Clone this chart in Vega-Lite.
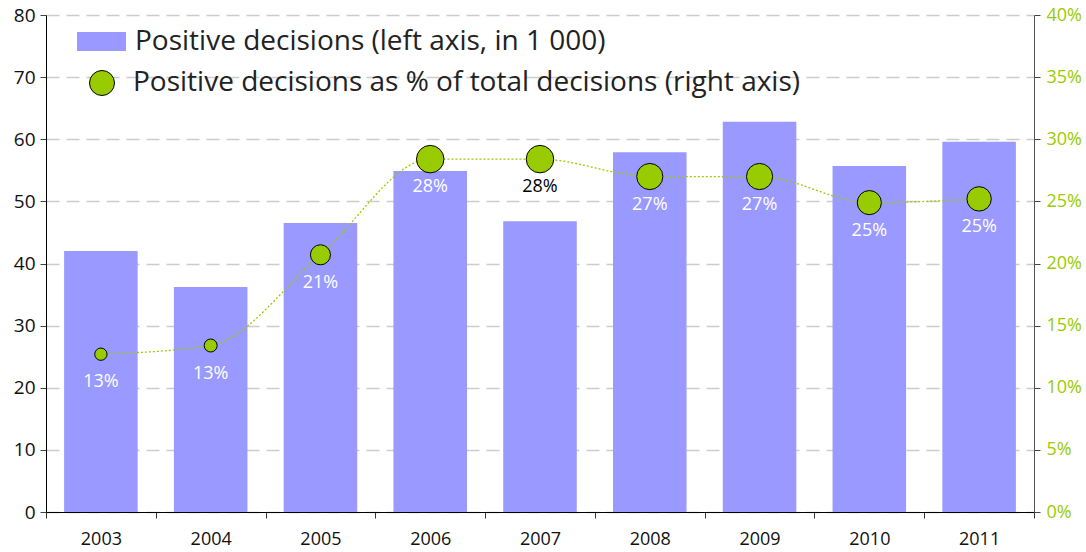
{
  "$schema": "https://vega.github.io/schema/vega-lite/v6.json",
  "width": 988,
  "height": 497,
  "autosize": {"type": "none"},
  "padding": {"left": 46, "top": 15, "right": 52, "bottom": 40},
  "background": "#ffffff",
  "config": {
    "font": "Open Sans",
    "view": {"stroke": null},
    "axis": {"labelFont": "Open Sans", "titleFont": "Open Sans"},
    "legend": {"labelFont": "Open Sans"}
  },
  "data": {
    "values": [
      {"year": "2003", "decisions": 42.0, "share": 0.127},
      {"year": "2004", "decisions": 36.2, "share": 0.134},
      {"year": "2005", "decisions": 46.5, "share": 0.207},
      {"year": "2006", "decisions": 54.9, "share": 0.284},
      {"year": "2007", "decisions": 46.8, "share": 0.284},
      {"year": "2008", "decisions": 57.9, "share": 0.270},
      {"year": "2009", "decisions": 62.8, "share": 0.270},
      {"year": "2010", "decisions": 55.7, "share": 0.249},
      {"year": "2011", "decisions": 59.6, "share": 0.252}
    ]
  },
  "encoding": {
    "x": {
      "field": "year",
      "type": "ordinal",
      "title": null,
      "scale": {"paddingInner": 0, "paddingOuter": 0},
      "axis": {
        "labelAngle": 0,
        "labelFontSize": 18,
        "labelColor": "#111",
        "labelPadding": 12,
        "tickBand": "extent",
        "tickSize": 6,
        "tickColor": "#333",
        "domainColor": "#000",
        "domainWidth": 1
      }
    }
  },
  "layer": [
    {
      "mark": {"type": "bar", "width": {"band": 0.67}},
      "encoding": {
        "y": {
          "field": "decisions",
          "type": "quantitative",
          "title": null,
          "scale": {"domain": [0, 80], "nice": false},
          "axis": {
            "orient": "left",
            "values": [0, 10, 20, 30, 40, 50, 60, 70, 80],
            "labelFontSize": 19,
            "labelColor": "#111",
            "labelPadding": 5,
            "tickSize": 6,
            "tickColor": "#444",
            "domainColor": "#000",
            "grid": true,
            "gridColor": "#cccccc",
            "gridWidth": 1.5,
            "gridDash": [13, 7]
          }
        },
        "color": {
          "datum": "Positive decisions (left axis, in 1 000)",
          "scale": {"range": ["#9999ff"]},
          "legend": {
            "title": null,
            "orient": "none",
            "legendX": 31,
            "legendY": 2,
            "padding": 0,
            "symbolType": "M-1,-0.39H1V0.39H-1Z",
            "symbolSize": 2401,
            "symbolStrokeWidth": 0,
            "labelFontSize": 28,
            "labelColor": "#222",
            "labelOffset": 9,
            "labelLimit": 1000
          }
        }
      }
    },
    {
      "layer": [
        {
          "mark": {"type": "line", "interpolate": "monotone", "color": "#99cc00", "strokeWidth": 1.3, "strokeDash": [2, 2]},
          "encoding": {}
        },
        {
          "mark": {"type": "point", "filled": true, "stroke": "#000", "strokeWidth": 1, "opacity": 1, "shape": "circle"},
          "encoding": {
            "size": {
              "field": "share",
              "type": "quantitative",
              "scale": {"type": "pow", "exponent": 2, "domain": [0, 0.4], "range": [0, 1500]},
              "legend": null
            },
            "fill": {
              "datum": "Positive decisions as % of total decisions (right axis)",
              "scale": {"range": ["#99cc00"]},
              "legend": {
                "title": null,
                "orient": "none",
                "legendX": 42,
                "legendY": 54,
                "padding": 0,
                "symbolType": "circle",
                "symbolSize": 625,
                "symbolStrokeColor": "#000",
                "symbolStrokeWidth": 1,
                "symbolOpacity": 1,
                "labelFontSize": 28,
                "labelColor": "#222",
                "labelOffset": 17,
                "labelLimit": 1000
              }
            }
          }
        },
        {
          "mark": {"type": "text", "dy": 28, "fontSize": 18, "baseline": "middle", "align": "center"},
          "encoding": {
            "text": {"field": "share", "type": "quantitative", "format": ".0%"},
            "color": {
              "condition": {"test": "datum.share*100 - 3 > datum.decisions/2", "value": "#000000"},
              "value": "#ffffff"
            }
          }
        }
      ],
      "encoding": {
        "y": {
          "field": "share",
          "type": "quantitative",
          "title": null,
          "scale": {"domain": [0, 0.4], "nice": false},
          "axis": {
            "orient": "right",
            "values": [0, 0.05, 0.1, 0.15, 0.2, 0.25, 0.3, 0.35, 0.4],
            "format": ".0%",
            "labelFontSize": 18,
            "labelColor": "#99cc00",
            "labelPadding": 6,
            "tickSize": 6,
            "tickColor": "#444",
            "domainColor": "#555",
            "grid": false
          }
        }
      }
    }
  ],
  "resolve": {"scale": {"y": "independent", "color": "independent"}}
}
